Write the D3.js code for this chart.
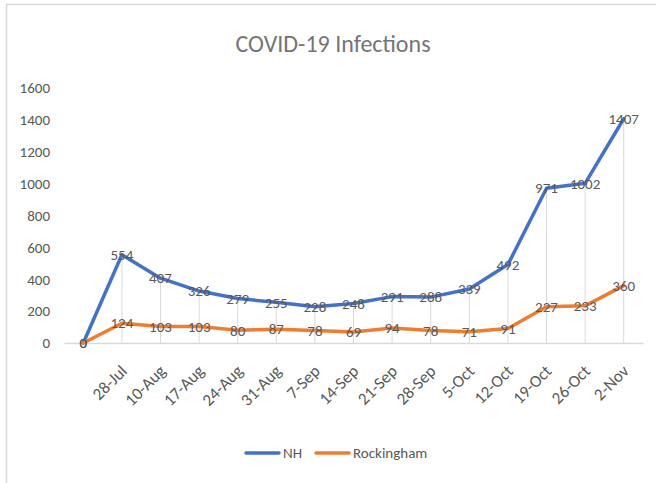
<!DOCTYPE html>
<html><head><meta charset="utf-8">
<script src="https://cdn.jsdelivr.net/npm/d3@7"></script>
<style>body{margin:0;background:#fff}svg{display:block}text{font-family:Carlito,"Liberation Sans Narrow",Lato,sans-serif}</style>
</head><body><svg id="c" width="656" height="483"></svg>
<script>
const categories = ["", "28-Jul", "10-Aug", "17-Aug", "24-Aug", "31-Aug", "7-Sep", "14-Sep", "21-Sep", "28-Sep", "5-Oct", "12-Oct", "19-Oct", "26-Oct", "2-Nov"];
const nhValues = [0, 554, 407, 326, 279, 255, 228, 248, 291, 288, 339, 492, 971, 1002, 1407];
const rockValues = [0, 124, 103, 103, 80, 87, 78, 69, 94, 78, 71, 91, 227, 233, 360];
const yTicks = [0, 200, 400, 600, 800, 1000, 1200, 1400, 1600];
const seriesNames = ["NH", "Rockingham"];

const svg = d3.select("#c");
const colors = ["#4472C4", "#ED7D31"];
const textColor = "#595959";
const ff = "Carlito,'Liberation Sans Narrow',Lato,sans-serif";

// border
svg.append("path").attr("d", "M6.5,483 L6.5,4.5 L656,4.5").attr("fill", "none").attr("stroke", "#d9d9d9").attr("stroke-width", 1.5);

const x = d3.scaleBand().domain(categories.map((c, i) => i)).range([64, 643]);
const y = d3.scaleLinear().domain([0, 1600]).range([343, 88]);
const cx = i => x(i) + x.bandwidth() / 2;

svg.append("text").attr("x", 333).attr("y", 52).attr("text-anchor", "middle")
  .attr("font-size", 24).attr("fill", "#757575").text("COVID-19 Infections");

// y axis labels
const yAxis = d3.axisLeft(y).tickValues(yTicks).tickSize(0).tickPadding(0).tickFormat(d3.format("d"));
const ga = svg.append("g").attr("transform", "translate(50,0)").call(yAxis);
ga.select(".domain").remove();
ga.selectAll("text").attr("font-size", 15).attr("fill", textColor).attr("font-family", ff);

// drop lines
svg.append("g").selectAll("line").data(categories).join("line")
  .attr("x1", (d, i) => cx(i)).attr("x2", (d, i) => cx(i))
  .attr("y1", (d, i) => y(Math.max(nhValues[i], rockValues[i]))).attr("y2", y(0))
  .attr("stroke", "#d9d9d9").attr("stroke-width", 1);

// x axis
const xAxis = d3.axisBottom(x).tickSize(0).tickFormat(i => categories[i]);
const gx = svg.append("g").attr("transform", `translate(0,${y(0)})`).call(xAxis);
gx.select(".domain").attr("stroke", "#d9d9d9").attr("stroke-width", 1.5);
gx.selectAll("text").attr("font-size", 17).attr("fill", textColor)
  .attr("font-family", ff)
  .attr("text-anchor", "end").attr("dy", 0)
  .attr("transform", "translate(4,27) rotate(-45)");

const line = d3.line().x((d, i) => cx(i)).y(d => y(d)).curve(d3.curveLinear);
[nhValues, rockValues].forEach((vals, k) => {
  svg.append("path").datum(vals).attr("d", line).attr("fill", "none")
    .attr("stroke", colors[k]).attr("stroke-width", 3.5).attr("stroke-linecap", "round").attr("stroke-linejoin", "round");
});
[nhValues, rockValues].forEach((vals, k) => {
  svg.append("g").selectAll("text").data(vals).join("text")
    .attr("x", (d, i) => cx(i)).attr("y", d => y(d)).attr("dy", "0.35em")
    .attr("text-anchor", "middle").attr("font-size", 15).attr("fill", textColor).text(d => d);
});

// legend
const leg = [[246, 283], [316, 353]];
seriesNames.forEach((n, k) => {
  svg.append("line").attr("x1", leg[k][0]).attr("x2", leg[k][0] + 33).attr("y1", 453).attr("y2", 453)
    .attr("stroke", colors[k]).attr("stroke-width", 3.5).attr("stroke-linecap", "round");
  svg.append("text").attr("x", leg[k][1]).attr("y", 453).attr("dy", "0.35em").attr("font-size", 15).attr("fill", textColor).text(n);
});
</script></body></html>
